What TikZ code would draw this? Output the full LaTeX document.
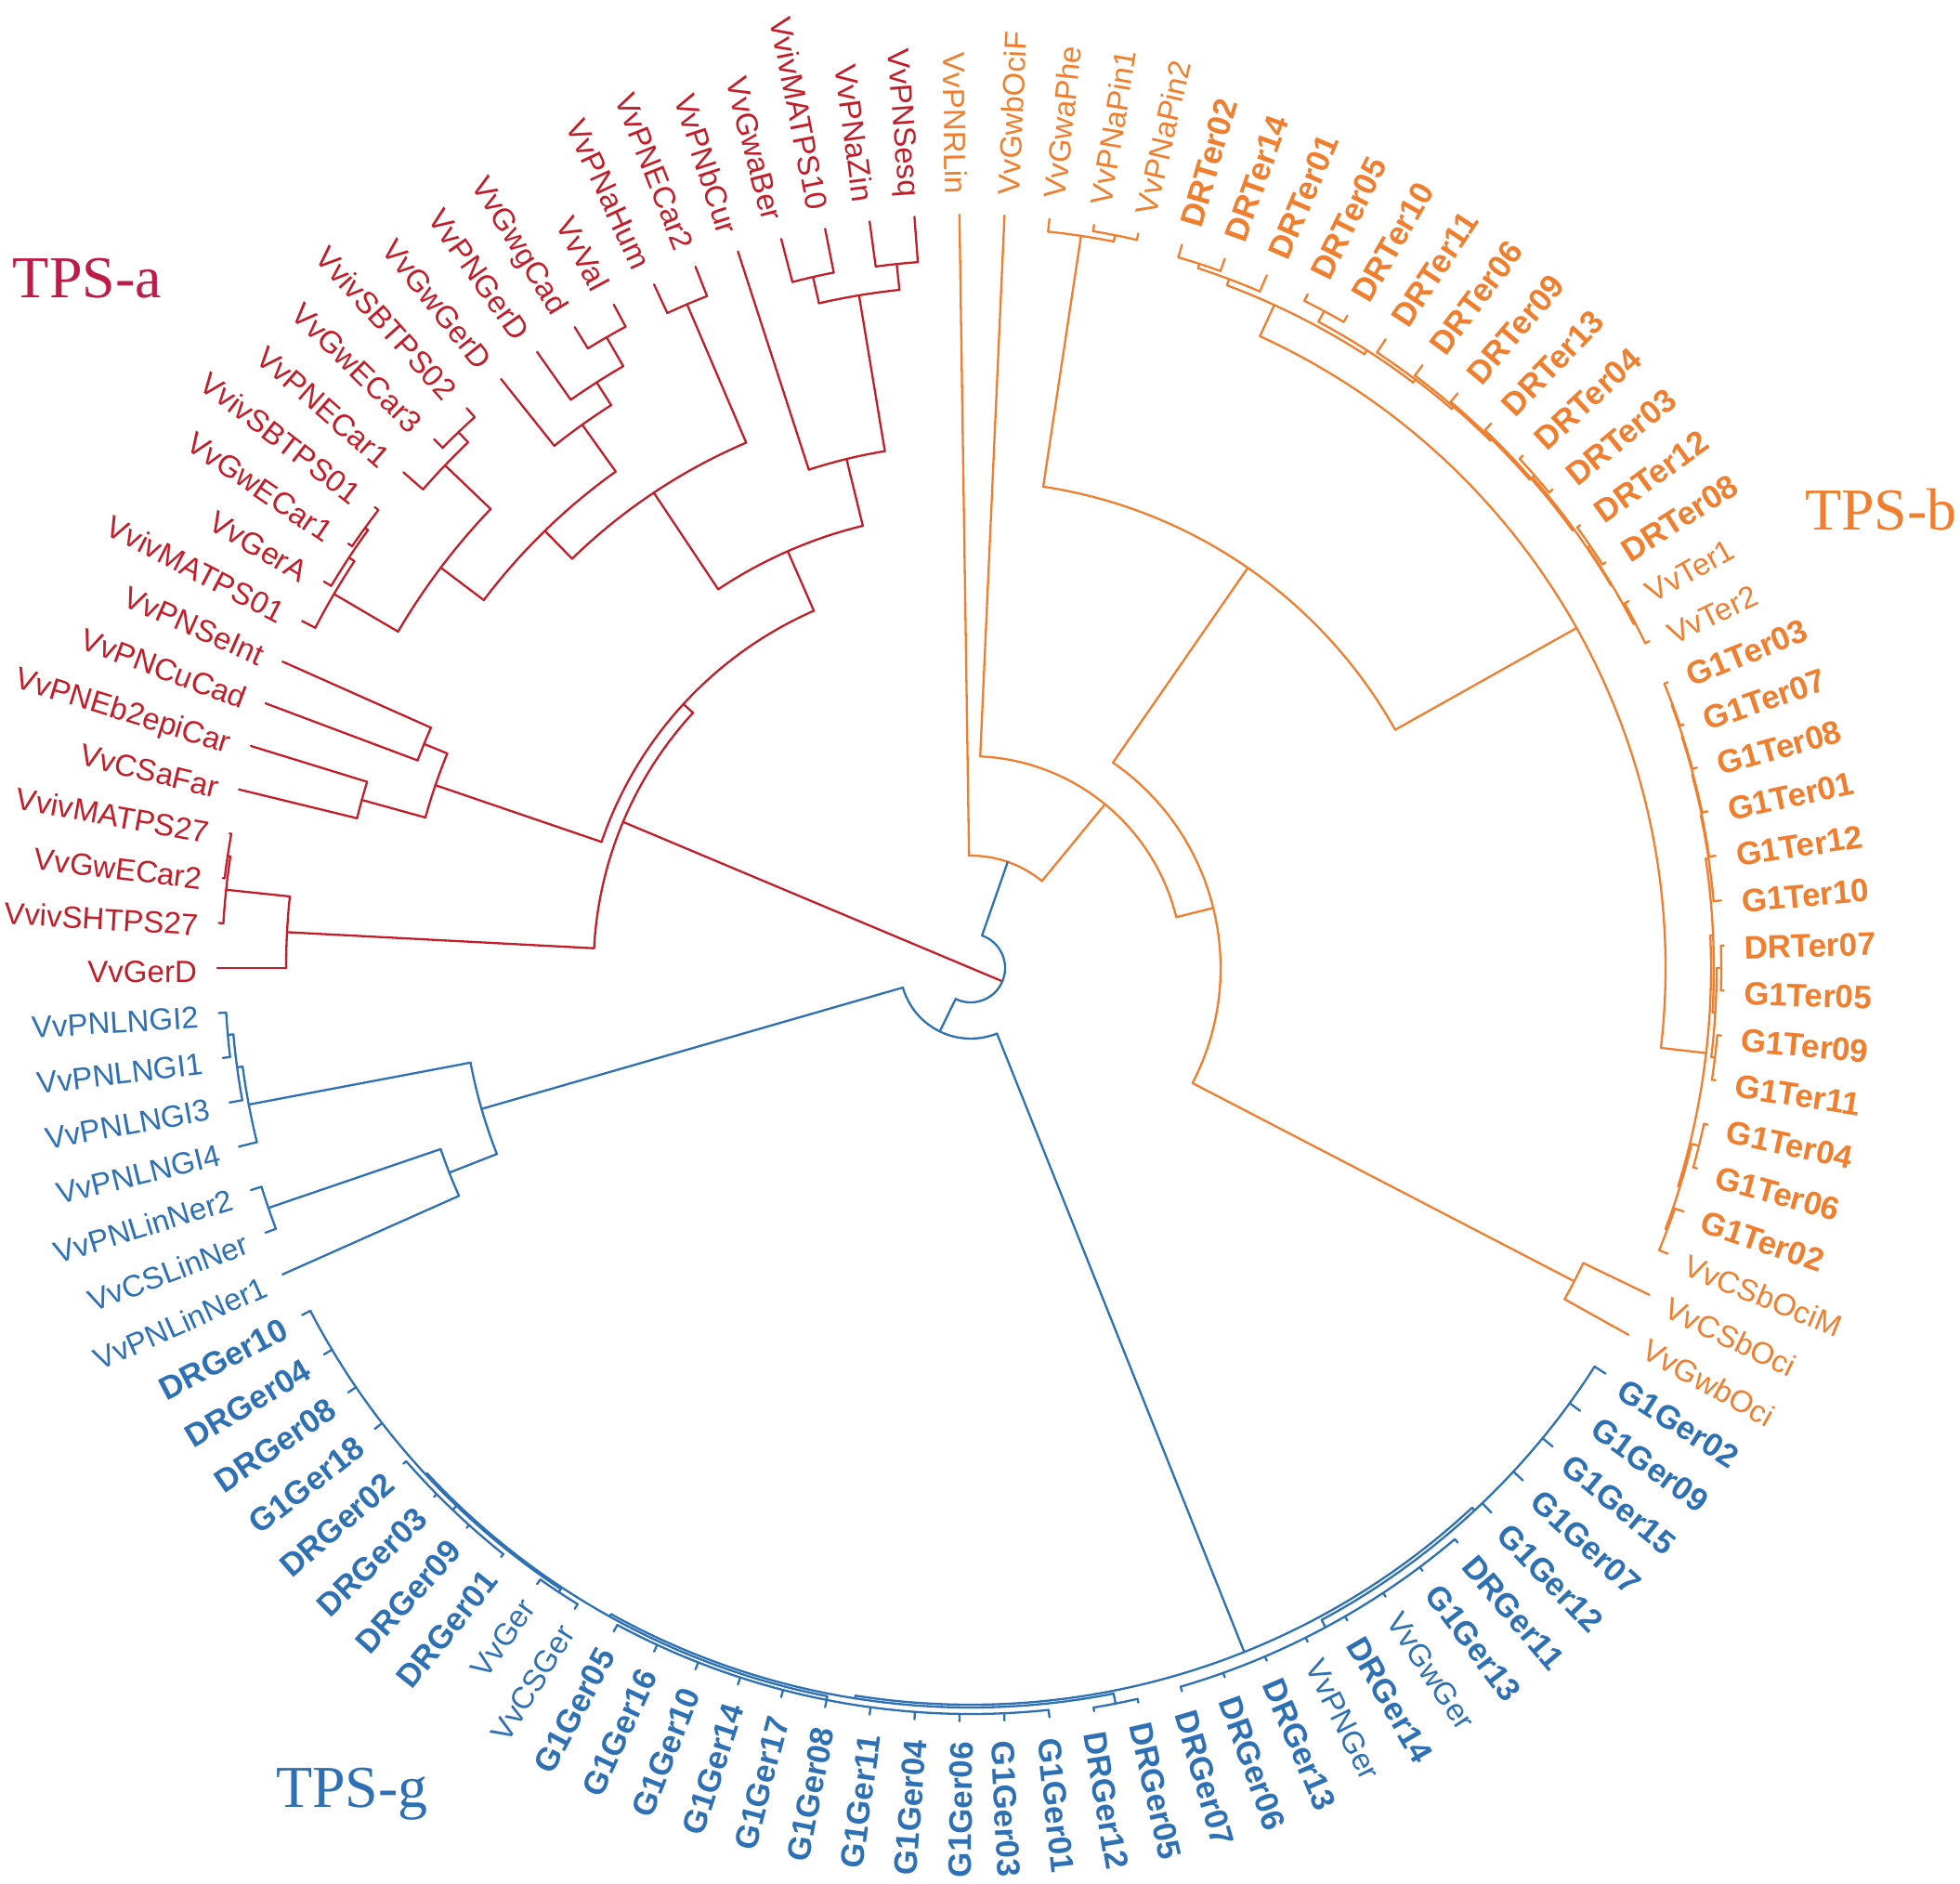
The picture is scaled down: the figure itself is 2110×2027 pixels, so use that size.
\documentclass[tikz,border=0pt]{standalone}
\usepackage{fontspec}
\usetikzlibrary{calc}
\setmainfont{Liberation Sans}
\newfontfamily\serifTPS{Liberation Serif}
\definecolor{tred}{RGB}{194,30,42}
\definecolor{torange}{RGB}{239,127,46}
\definecolor{tblue}{RGB}{46,112,180}
\definecolor{tcrimson}{RGB}{188,28,72}
\newcommand\Arc[3]{\draw (#2:#1pt) arc[start angle=#2, end angle=#3, radius=#1pt];}
\newcommand\Rad[3]{\draw (#1:#2pt) -- (#1:#3pt);}
\newcommand\Lf[2]{\pgfmathsetmacro\lfang{180-#1*3.4285714}\draw (\lfang:#2pt) -- (\lfang:811pt);}
\newcommand\Lab[3]{%
  \pgfmathsetmacro\lbang{180-#1*3.4285714}%
  \pgfmathtruncatemacro\lbside{abs(\lbang)>90}%
  \ifnum\lbside=1
    \node[lab,rotate=\lbang+180,anchor=base east] (n#1) at ($(\lbang:832pt)+(\lbang+90:15pt)$) {#3#2};
  \else
    \node[lab,rotate=\lbang,anchor=base west] (n#1) at ($(\lbang:832pt)+(\lbang-90:15pt)$) {#3#2};
  \fi}
\newcommand\bld{\bfseries\fontsize{35}{35}\selectfont}
\begin{document}
\begin{tikzpicture}[line width=2.3pt, line cap=round, line join=round,
  lab/.style={inner sep=0pt, font=\fontsize{33}{33}\selectfont},
  tps/.style={inner sep=0pt, font=\serifTPS\fontsize{64}{64}\selectfont}]
\fill[white] (-1045pt,-985pt) rectangle (1065pt,1042pt);
\useasboundingbox (-1045pt,-985pt) rectangle (1065pt,1042pt);

% ---------------- RED (TPS-a)
\begin{scope}[tred]
\draw (-22.79:37pt) -- (157.21:406pt);
\Arc{406}{177}{137.424}
\Rad{177}{406}{737}\Arc{737}{180}{174}\Lf{0}{737}
\Rad{174}{737}{806}\Arc{806}{176.571}{171.429}\Lf{1}{806}
\Rad{171.429}{806}{809}\Arc{809}{173.143}{169.714}\Lf{2}{809}\Lf{3}{809}
\Rad{137.424}{406}{420}\Arc{420}{161.143}{113.705}
\Rad{161.143}{420}{609}\Arc{609}{157.714}{164.571}
\Rad{157.714}{609}{636}\Arc{636}{156}{159.429}\Lf{6}{636}\Lf{7}{636}
\Rad{164.571}{609}{680}\Arc{680}{162.857}{166.286}\Lf{4}{680}\Lf{5}{680}
\Rad{113.705}{420}{490}\Arc{490}{123.696}{103.714}
\Rad{123.696}{490}{615}\Arc{615}{134.25}{113.143}
\Rad{113.143}{615}{777}\Arc{777}{114.857}{111.429}\Lf{19}{777}\Lf{20}{777}
\Rad{134.25}{615}{657}\Arc{657}{142.929}{125.571}
\Rad{142.929}{657}{715}\Arc{715}{149.571}{136.286}
\Rad{149.571}{715}{795}\Arc{795}{152.571}{146.571}\Lf{8}{795}
\Rad{146.571}{795}{802}\Arc{802}{149.143}{144}\Lf{9}{802}
\Rad{144}{802}{806}\Arc{806}{145.714}{142.286}\Lf{10}{806}\Lf{11}{806}
\Rad{136.286}{715}{783}\Arc{783}{138.857}{133.714}\Lf{12}{783}
\Rad{133.714}{783}{798}\Arc{798}{135.429}{132}\Lf{13}{798}\Lf{14}{798}
\Rad{125.571}{657}{719}\Arc{719}{128.571}{122.571}\Lf{15}{719}
\Rad{122.571}{719}{748}\Arc{748}{125.143}{120}\Lf{16}{748}
\Rad{120}{748}{784}\Arc{784}{121.714}{118.286}\Lf{17}{784}\Lf{18}{784}
\Rad{103.714}{490}{564}\Arc{564}{108}{99.429}\Lf{21}{564}
\Rad{99.429}{564}{734}\Arc{734}{102.857}{96}
\Rad{102.857}{734}{763}\Arc{763}{104.571}{101.143}\Lf{22}{763}\Lf{23}{763}
\Rad{96}{734}{762}\Arc{762}{97.714}{94.286}\Lf{24}{762}\Lf{25}{762}
\foreach \i/\t in {0/VvGerD,1/VvivSHTPS27,2/VvGwECar2,3/VvivMATPS27,4/VvCSaFar,5/VvPNEb2epiCar,6/VvPNCuCad,7/VvPNSeInt,8/VvivMATPS01,9/VvGerA,10/VvGwECar1,11/VvivSBTPS01,12/VvPNECar1,13/VvGwECar3,14/VvivSBTPS02,15/VvGwGerD,16/VvPNGerD,17/VvGwgCad,18/VvVal,19/VvPNaHum,20/VvPNECar2,21/VvPNbCur,22/VvGwaBer,23/VvivMATPS10,24/VvPNaZin,25/VvPNSesq}{\Lab{\i}{\t}{}}
\end{scope}

% ---------------- ORANGE (TPS-b)
\begin{scope}[torange]
\Arc{121}{90.857}{50.66}\Lf{26}{121}
\Rad{50.66}{121}{228}\Arc{228}{87.429}{13.9}\Lf{27}{228}
\Rad{13.9}{228}{269}\Arc{269}{55.3}{-27.43}
\Rad{-27.43}{269}{732}\Arc{732}{-25.714}{-29.143}\Lf{60}{732}\Lf{61}{732}
\Rad{55.3}{269}{524}\Arc{524}{81.43}{29.3}
\Rad{81.43}{524}{797}\Arc{797}{84}{78.857}\Lf{28}{797}
\Rad{78.857}{797}{804}\Arc{804}{80.571}{77.143}\Lf{29}{804}\Lf{30}{804}
\Rad{29.3}{524}{748}\Arc{748}{65.4}{-6.6}
\Rad{65.4}{748}{785}\Arc{785}{69.43}{57.32}
\Rad{69.43}{785}{792}\Arc{792}{72}{66.857}\Lf{33}{792}
\Rad{72}{792}{797}\Arc{797}{73.714}{70.286}\Lf{31}{797}\Lf{32}{797}
\Rad{57.32}{785}{790}\Arc{790}{61.714}{52.93}
\Rad{61.714}{790}{803}\Arc{803}{63.429}{60}\Lf{34}{803}\Lf{35}{803}
\Rad{52.93}{790}{794}\Arc{794}{56.571}{49.29}\Lf{36}{794}
\Rad{49.29}{794}{797}\Arc{797}{53.143}{45.43}\Lf{37}{797}
\Rad{45.43}{797}{799}\Arc{799}{49.714}{41.143}\Lf{38}{799}
\Rad{41.143}{799}{801}\Arc{801}{46.286}{36}\Lf{39}{801}
\Rad{36}{801}{803}\Arc{803}{41.143}{30.857}
\Rad{41.143}{803}{806}\Arc{806}{42.857}{39.429}\Lf{40}{806}\Lf{41}{806}
\Rad{30.857}{803}{804}\Arc{804}{34.286}{27.43}
\Rad{34.286}{804}{807}\Arc{807}{36}{32.571}\Lf{42}{807}\Lf{43}{807}
\Rad{27.43}{804}{806}\Arc{806}{29.143}{25.714}\Lf{44}{806}\Lf{45}{806}
\Rad{-6.6}{748}{797}\Arc{797}{2.52}{-17.14}
\Rad{2.52}{797}{800}\Arc{800}{8.464}{-3.43}
\Rad{8.464}{800}{803}\Arc{803}{11.786}{5.143}\Lf{51}{803}
\Rad{11.786}{803}{804}\Arc{804}{15}{8.571}\Lf{50}{804}
\Rad{15}{804}{805}\Arc{805}{18}{12}\Lf{49}{805}
\Rad{18}{805}{806}\Arc{806}{20.571}{15.429}\Lf{48}{806}
\Rad{20.571}{806}{807}\Arc{807}{22.286}{18.857}\Lf{46}{807}\Lf{47}{807}
\Rad{-3.43}{800}{803}\Arc{803}{0}{-6.857}
\Rad{0}{803}{808}\Arc{808}{1.714}{-1.714}\Lf{52}{808}\Lf{53}{808}
\Rad{-6.857}{803}{807}\Arc{807}{-5.143}{-8.571}\Lf{54}{807}\Lf{55}{807}
\Rad{-17.14}{797}{799}\Arc{799}{-13.714}{-20.571}
\Rad{-13.714}{799}{807}\Arc{807}{-12}{-15.429}\Lf{56}{807}\Lf{57}{807}
\Rad{-20.571}{799}{801}\Arc{801}{-18.857}{-22.286}\Lf{58}{801}\Lf{59}{801}
\foreach \i/\t in {26/VvPNRLin,27/VvGwbOciF,28/VvGwaPhe,29/VvPNaPin1,30/VvPNaPin2,44/VvTer1,45/VvTer2,59/VvCSbOciM,60/VvCSbOci,61/VvGwbOci}{\Lab{\i}{\t}{}}
\foreach \i/\t in {31/DRTer02,32/DRTer14,33/DRTer01,34/DRTer05,35/DRTer10,36/DRTer11,37/DRTer06,38/DRTer09,39/DRTer13,40/DRTer04,41/DRTer03,42/DRTer12,43/DRTer08,46/G1Ter03,47/G1Ter07,48/G1Ter08,49/G1Ter01,50/G1Ter12,51/G1Ter10,52/DRTer07,53/G1Ter05,54/G1Ter09,55/G1Ter11,56/G1Ter04,57/G1Ter06,58/G1Ter02}{\Lab{\i}{\t}{\bld}}
\end{scope}

% ---------------- BLUE (TPS-g)
\begin{scope}[tblue]
\Arc{37}{70.76}{-116}
\Rad{70.76}{37}{121}
\Rad{-116}{37}{76}\Arc{76}{-163.93}{-68.2}
\Rad{196.07}{76}{548}\Arc{548}{190.71}{201.43}
\Rad{190.71}{548}{791}\Arc{791}{187.71}{193.71}\Lf{101}{791}
\Rad{187.71}{791}{797}\Arc{797}{185.14}{190.29}\Lf{102}{797}
\Rad{185.14}{797}{803}\Arc{803}{183.43}{186.86}\Lf{103}{803}\Lf{104}{803}
\Rad{201.43}{548}{603}\Arc{603}{198.86}{204}\Lf{98}{603}
\Rad{198.86}{603}{799}\Arc{799}{197.14}{200.57}\Lf{99}{799}\Lf{100}{799}
\Rad{-68.2}{76}{793}\Arc{793}{-47.1}{-99}
\Rad{-47.1}{793}{797}\Arc{797}{-32.571}{-61.71}
\foreach \i in {62,...,66}{\Lf{\i}{797}}
\Rad{-61.71}{797}{806}\Arc{806}{-49.714}{-73.714}
\foreach \i in {67,...,74}{\Lf{\i}{806}}
\Rad{-99}{793}{796}\Arc{796}{-78.857}{-119.1}
\Rad{-78.857}{796}{807}\Arc{807}{-77.143}{-80.571}\Lf{75}{807}\Lf{76}{807}
\Rad{-119.1}{796}{799}\Arc{799}{-101.14}{-137.1}
\Rad{-101.14}{799}{803}\Arc{803}{-84}{-118.286}
\foreach \i in {77,...,87}{\Lf{\i}{803}}
\Rad{-137.1}{799}{801}\Arc{801}{-123.43}{-152.571}
\foreach \i in {94,...,97}{\Lf{\i}{801}}
\Rad{-133.71}{801}{807}\Arc{807}{-128.571}{-138.857}
\foreach \i in {90,...,93}{\Lf{\i}{807}}
\Rad{-123.43}{801}{805}\Arc{805}{-121.714}{-125.143}\Lf{88}{805}\Lf{89}{805}
\foreach \i/\t in {69/VvGwGer,71/VvPNGer,88/VvCSGer,89/VvGer,98/VvPNLinNer1,99/VvCSLinNer,100/VvPNLinNer2,101/VvPNLNGI4,102/VvPNLNGI3,103/VvPNLNGI1,104/VvPNLNGI2}{\Lab{\i}{\t}{}}
\foreach \i/\t in {62/G1Ger02,63/G1Ger09,64/G1Ger15,65/G1Ger07,66/G1Ger12,67/DRGer11,68/G1Ger13,70/DRGer14,72/DRGer13,73/DRGer06,74/DRGer07,75/DRGer05,76/DRGer12,77/G1Ger01,78/G1Ger03,79/G1Ger06,80/G1Ger04,81/G1Ger11,82/G1Ger08,83/G1Ger17,84/G1Ger14,85/G1Ger10,86/G1Ger16,87/G1Ger05,90/DRGer01,91/DRGer09,92/DRGer03,93/DRGer02,94/G1Ger18,95/DRGer08,96/DRGer04,97/DRGer10}{\Lab{\i}{\t}{\bld}}
\end{scope}

\node[tps, text=tcrimson] (tpsa) at (-951pt,742pt) {TPS-a};
\node[tps, text=torange] (tpsb) at (980pt,493pt) {TPS-b};
\node[tps, text=tblue] (tpsg) at (-666pt,-889pt) {TPS-g};
\end{tikzpicture}
\end{document}
